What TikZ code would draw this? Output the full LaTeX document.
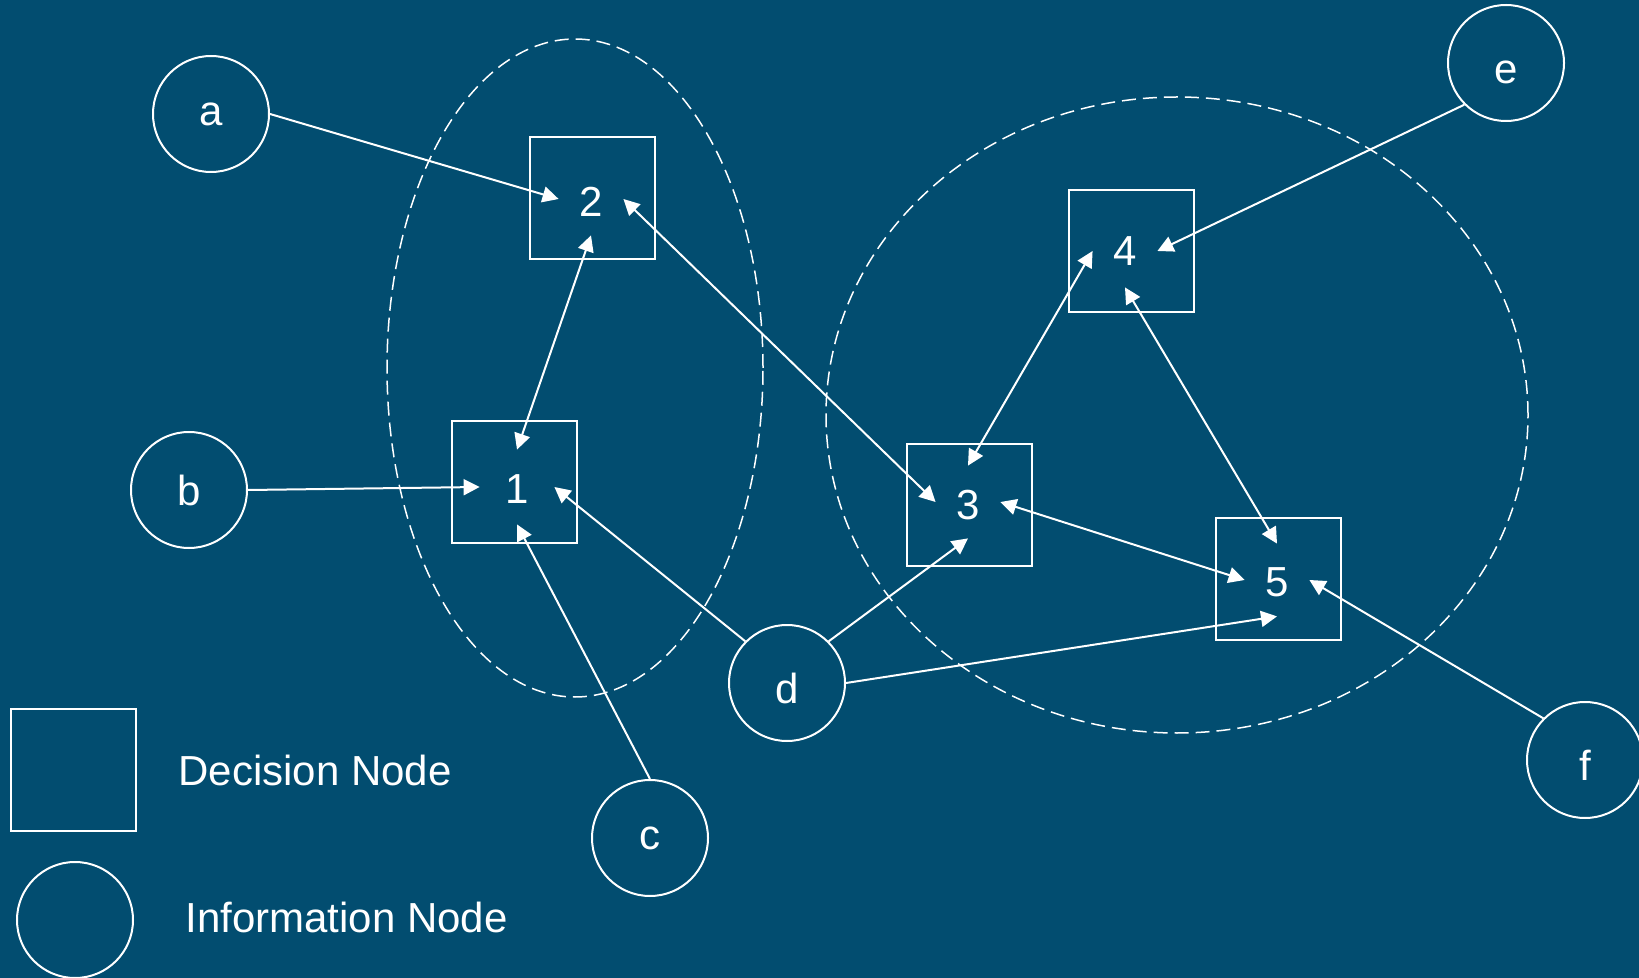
\documentclass[tikz,border=0pt]{standalone}
\usepackage{fontspec}
\setmainfont{Liberation Sans}
\usepackage{tikz}
\usetikzlibrary{arrows.meta,shapes}
\definecolor{bgblue}{RGB}{2,77,112}
\newcommand{\shiftdown}[2]{\raisebox{-#1}[\height][\depth]{#2}}
\tikzstyle{decision} = [draw=white, line width=1pt, rectangle, minimum width=62.5pt, minimum height=61pt, inner sep=0pt]
\tikzstyle{info} = [draw=white, line width=1pt, circle, minimum size=58pt, inner sep=0pt, text=white, font=\fontsize{21}{25}\selectfont]
\tikzstyle{tag} = [rectangle, minimum width=32pt, minimum height=36pt, inner sep=0pt, text=white, font=\fontsize{21}{25}\selectfont]
\tikzstyle{legend} = [anchor=west, inner sep=0pt, text=white, font=\fontsize{21}{25}\selectfont]
\tikzstyle{link} = [white, line width=1pt, -{Triangle[length=8pt,width=8pt]}]
\tikzstyle{twoway} = [link, {Triangle[length=8pt,width=8pt]}-{Triangle[length=8pt,width=8pt]}]
\tikzstyle{region} = [white, line width=0.75pt, dash pattern=on 7pt off 3.5pt]

\begin{document}
\begin{tikzpicture}[x=0.5pt, y=-0.5pt]
\useasboundingbox (0,0) rectangle (1639,978);
\fill[bgblue] (0,0) rectangle (1639,978);

\draw[region] (575,368) ellipse [x radius=94pt, y radius=164.5pt];
\draw[region] (1177,415) ellipse [x radius=175.5pt, y radius=159pt];

\node[decision] (n1) at (514,482) {};
\node[decision] (n2) at (592,198) {};
\node[decision] (n3) at (969,505) {};
\node[decision] (n4) at (1131,251) {};
\node[decision] (n5) at (1278,579) {};
\node[tag, minimum width=37pt, minimum height=37pt] (tag1) at (517,487) {\shiftdown{1pt}{1}};
\node[tag] (tag2) at (591,199) {\shiftdown{1.5pt}{2}};
\node[tag] (tag3) at (968,502) {\shiftdown{1.5pt}{3}};
\node[tag] (tag4) at (1125,251) {4};
\node[tag] (tag5) at (1277,580) {\shiftdown{1pt}{5}};

\node[info] (a) at (211,114) {a};
\node[info] (b) at (189,490) {b};
\node[info] (c) at (650,838) {c};
\node[info] (d) at (787,683) {\shiftdown{2.75pt}{d}};
\node[info] (e) at (1506,63) {\shiftdown{4.5pt}{e}};
\node[info] (f) at (1585,760) {\shiftdown{2.75pt}{f}};

\draw[link] (a.east) -- (tag2.west);
\draw[link] (b.east) -- (tag1.west);
\draw[link] (c.north) -- (tag1.south);
\draw[link] (d.north west) -- (tag1.east);
\draw[link] (d.north east) -- (tag3.south);
\draw[link] (d.east) -- (tag5.south);
\draw[link] (e.south west) -- (tag4.east);
\draw[link] (f.north west) -- (tag5.east);
\draw[twoway] (tag1.north) -- (tag2.south);
\draw[twoway] (tag2.east) -- (tag3.west);
\draw[twoway] (tag3.north) -- (tag4.west);
\draw[twoway] (tag4.south) -- (tag5.north);
\draw[twoway] (tag3.east) -- (tag5.west);

\node[decision] (keybox) at (73,770) {};
\node[info] (keycircle) at (75,920) {};
\node[legend] (keyboxtext) at (178,770) {Decision Node};
\node[legend] (keycircletext) at (185,917) {Information Node};
\end{tikzpicture}
\end{document}
